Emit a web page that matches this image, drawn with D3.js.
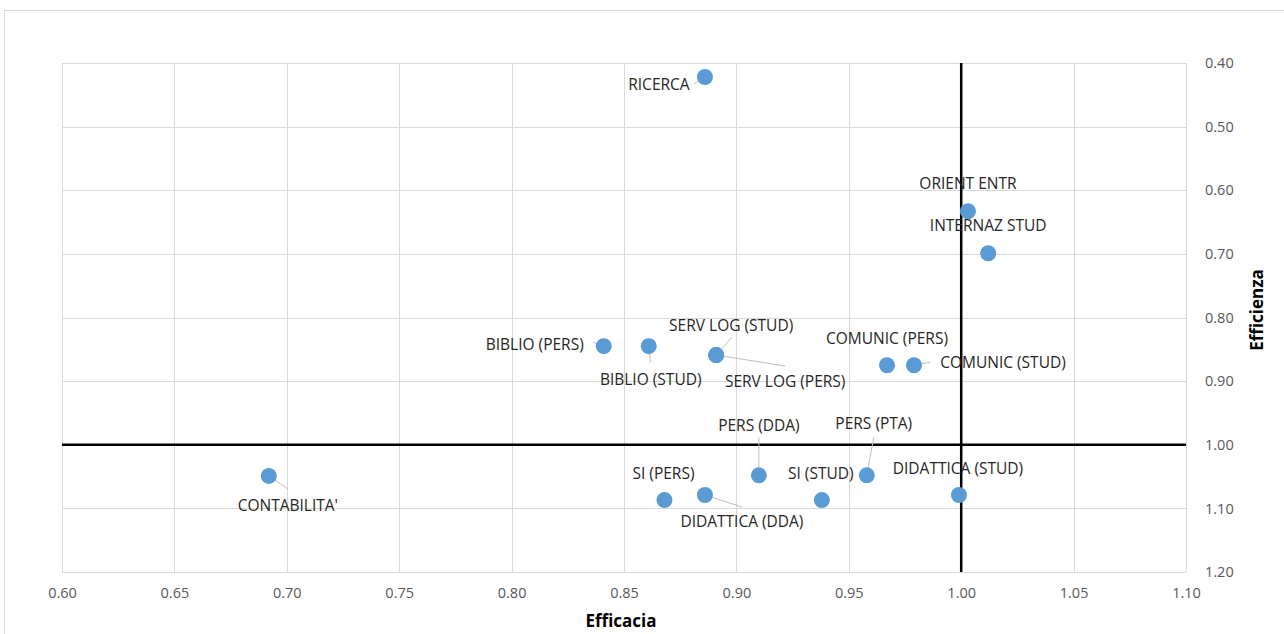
<!DOCTYPE html>
<html><head><meta charset="utf-8">
<script src="https://cdn.jsdelivr.net/npm/d3@7"></script>
<style>body{margin:0;background:#fff;font-family:"Open Sans",sans-serif}</style>
</head><body>
<svg id="c" width="1284" height="634"></svg>
<script>
const names = ["RICERCA","ORIENT ENTR","INTERNAZ STUD","BIBLIO (PERS)","BIBLIO (STUD)","SERV LOG (STUD)","SERV LOG (PERS)","COMUNIC (PERS)","COMUNIC (STUD)","PERS (DDA)","PERS (PTA)","SI (PERS)","DIDATTICA (DDA)","SI (STUD)","DIDATTICA (STUD)","CONTABILITA'"];
const efficacia = [0.886,1.003,1.012,0.841,0.861,0.891,0.891,0.967,0.979,0.910,0.958,0.868,0.886,0.938,0.999,0.692];
const efficienza = [0.422,0.633,0.699,0.845,0.845,0.859,0.859,0.875,0.875,1.048,1.048,1.087,1.079,1.087,1.079,1.049];
const xTicks = [0.60,0.65,0.70,0.75,0.80,0.85,0.90,0.95,1.00,1.05,1.10];
const yTicks = [0.40,0.50,0.60,0.70,0.80,0.90,1.00,1.10,1.20];
// label layout: text offset from point (px) and leader start offset
const labelLayout = [
  {dx:-46,dy:7,lx:-11,ly:7},
  {dx:0,dy:-28,lx:null},
  {dx:0,dy:-28,lx:null},
  {dx:-69,dy:-2,lx:-11,ly:-4},
  {dx:2,dy:33,lx:2,ly:16},
  {dx:15,dy:-30,lx:16,ly:-18},
  {dx:69,dy:26,lx:69,ly:11},
  {dx:0,dy:-27,lx:null},
  {dx:89,dy:-3,lx:16,ly:-3},
  {dx:0,dy:-50,lx:0,ly:-38},
  {dx:7,dy:-52,lx:7,ly:-38},
  {dx:-1,dy:-27,lx:null},
  {dx:37,dy:26,lx:37,ly:12},
  {dx:-1,dy:-27,lx:null},
  {dx:-1,dy:-27,lx:null},
  {dx:19,dy:29,lx:19,ly:13}
];
const svg = d3.select("#c");
const L=62,R=1186,T=63,B=572;
const x = d3.scaleLinear().domain([0.60,1.10]).range([L,R]);
const y = d3.scaleLinear().domain([0.40,1.20]).range([T,B]);

// chart border
svg.append("rect").attr("x",4.5).attr("y",10.5).attr("width",1290).attr("height",640)
  .attr("fill","none").attr("stroke","#d9d9d9");

// gridlines
const g = svg.append("g");
g.selectAll(".vx").data(xTicks).join("line")
  .attr("x1",d=>Math.round(x(d))+0.5).attr("x2",d=>Math.round(x(d))+0.5).attr("y1",T).attr("y2",B)
  .attr("stroke","#d9d9d9").attr("stroke-width",1);
g.selectAll(".hy").data(yTicks).join("line")
  .attr("y1",d=>Math.round(y(d))+0.5).attr("y2",d=>Math.round(y(d))+0.5).attr("x1",L).attr("x2",R)
  .attr("stroke","#d9d9d9").attr("stroke-width",1);

// axes (labels only)
const xa = svg.append("g").attr("transform",`translate(0,${B})`)
  .call(d3.axisBottom(x).tickValues(xTicks).tickFormat(d3.format(".2f")).tickSize(0).tickPadding(16));
xa.select(".domain").remove();
xa.selectAll("text").attr("fill","#595959").style("font-size","14.5px").style("font-family","'Open Sans',sans-serif");
const ya = svg.append("g").attr("transform",`translate(${R},0)`)
  .call(d3.axisRight(y).tickValues(yTicks).tickFormat(d3.format(".2f")).tickSize(0).tickPadding(19));
ya.select(".domain").remove();
ya.selectAll("text").attr("fill","#595959").style("font-size","14.5px").style("font-family","'Open Sans',sans-serif");

// crosshair
svg.append("line").attr("x1",x(1.0)).attr("x2",x(1.0)).attr("y1",T).attr("y2",B).attr("stroke","#000").attr("stroke-width",2.5);
svg.append("line").attr("x1",L).attr("x2",R).attr("y1",y(1.0)).attr("y2",y(1.0)).attr("stroke","#000").attr("stroke-width",2.5);

const pts = names.map((n,i)=>({n,ex:efficacia[i],ey:efficienza[i],lay:labelLayout[i]}));

// leader lines
svg.append("g").selectAll("line").data(pts.filter(p=>p.lay.lx!==null)).join("line")
  .attr("x1",p=>x(p.ex)+p.lay.lx).attr("y1",p=>y(p.ey)+p.lay.ly)
  .attr("x2",p=>x(p.ex)).attr("y2",p=>y(p.ey))
  .attr("stroke","#bfbfbf").attr("stroke-width",1);

// points
svg.append("g").selectAll("circle").data(pts).join("circle")
  .attr("cx",p=>x(p.ex)).attr("cy",p=>y(p.ey)).attr("r",8).attr("fill","#5b9bd5");

// labels
svg.append("g").selectAll("text").data(pts).join("text")
  .attr("x",p=>x(p.ex)+p.lay.dx).attr("y",p=>y(p.ey)+p.lay.dy)
  .attr("text-anchor","middle").attr("dominant-baseline","central")
  .attr("fill","#262626").style("font-size","15.5px").style("font-family","'Open Sans',sans-serif")
  .text(p=>p.n);

// axis titles
svg.append("text").attr("x",621).attr("y",620).attr("text-anchor","middle").attr("dominant-baseline","central")
  .style("font-weight","bold").style("font-size","17px").style("font-family","'Open Sans',sans-serif").attr("fill","#000").text("Efficacia");
svg.append("text").attr("transform","translate(1256,310) rotate(-90)").attr("text-anchor","middle").attr("dominant-baseline","central")
  .style("font-weight","bold").style("font-size","17px").style("font-family","'Open Sans',sans-serif").attr("fill","#000").text("Efficienza");
</script>
</body></html>
